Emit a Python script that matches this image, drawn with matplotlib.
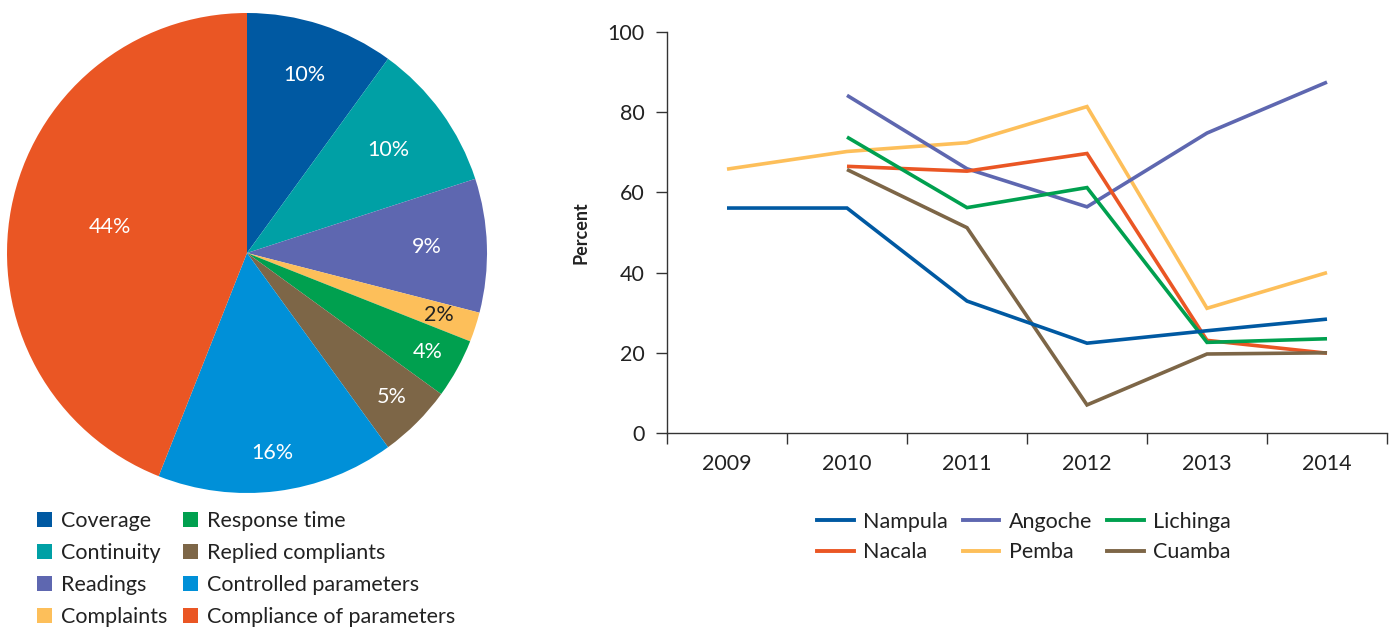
import matplotlib
matplotlib.use("Agg")
import matplotlib.pyplot as plt
from matplotlib.patches import Patch
from matplotlib.lines import Line2D
import numpy as np

plt.rcParams['font.family'] = ['Lato', 'DejaVu Sans']

# ---- pie data ----
pie_labels = ["Coverage", "Continuity", "Readings", "Complaints",
              "Response time", "Replied compliants", "Controlled parameters",
              "Compliance of parameters"]
pie_values = [10, 10, 9, 2, 4, 5, 16, 44]
pie_colors = ["#0059a2", "#00a0a5", "#5e67b0", "#fdbf5a",
              "#00a04f", "#7d6647", "#0090d8", "#ea5624"]
pct_text_colors = ["white", "white", "white", "#222222",
                   "white", "white", "white", "white"]
pct_radius = [0.78, 0.73, 0.75, 0.84, 0.86, 0.85, 0.84, 0.58]

# ---- line data ----
years = ["2009", "2010", "2011", "2012", "2013", "2014"]
nan = np.nan
nampula = [56.1, 56.1, 32.9, 22.4, 25.5, 28.4]
angoche = [nan, 84.2, 65.9, 56.4, 74.8, 87.5]
lichinga = [nan, 73.8, 56.2, 61.2, 22.6, 23.5]
nacala = [nan, 66.5, 65.3, 69.7, 23.1, 19.9]
pemba = [65.8, 70.2, 72.4, 81.4, 31.1, 40.0]
cuamba = [nan, 65.7, 51.2, 7.0, 19.7, 20.0]

series_names = ["Nampula", "Angoche", "Lichinga", "Nacala", "Pemba", "Cuamba"]
series_values = [nampula, angoche, lichinga, nacala, pemba, cuamba]
series_colors = ["#0059a2", "#5e67b0", "#00a04f", "#ea5624", "#fdbf5a", "#7d6647"]
# drawing order (back to front)
draw_order = ["Pemba", "Angoche", "Nacala", "Lichinga", "Cuamba", "Nampula"]

TEXT = "#222222"
FS = 15.5

W, H = 1393, 627
fig = plt.figure(figsize=(W / 100, H / 100), dpi=100)

# ---- pie chart ----
ax_pie = fig.add_axes([7 / W, (H - 493) / H, 480 / W, 480 / H])
wedges, _ = ax_pie.pie(pie_values, colors=pie_colors, startangle=90,
                       counterclock=False, radius=1.0,
                       wedgeprops=dict(linewidth=0))
total = sum(pie_values)
for w, v, c, r in zip(wedges, pie_values, pct_text_colors, pct_radius):
    mid = np.deg2rad((w.theta1 + w.theta2) / 2)
    ax_pie.text(r * np.cos(mid), r * np.sin(mid), f"{round(100 * v / total)}%",
                ha="center", va="center", color=c, fontsize=FS)
ax_pie.set_xlim(-1, 1)
ax_pie.set_ylim(-1, 1)
ax_pie.set_aspect("equal")
ax_pie.axis("off")

pie_handles = [Patch(facecolor=c, edgecolor="none") for c in pie_colors]
leg1 = fig.legend(pie_handles, pie_labels, loc="upper left",
                  bbox_to_anchor=(37 / W, 1 - 511 / H), ncol=2, frameon=False,
                  fontsize=FS, handlelength=0.7, handleheight=0.7,
                  handletextpad=0.4, columnspacing=0.75, labelspacing=0.56,
                  borderaxespad=0, borderpad=0)
for t in leg1.get_texts():
    t.set_color(TEXT)

# ---- line chart ----
ax = fig.add_axes([667 / W, (H - 433) / H, 720 / W, 401 / H])
x = np.arange(len(years))
for name in draw_order:
    i = series_names.index(name)
    ax.plot(x, series_values[i], color=series_colors[i], lw=2.6,
            solid_joinstyle="miter", solid_capstyle="butt")
ax.set_xlim(-0.5, len(years) - 0.5)
ax.set_ylim(0, 100)
ax.set_yticks([0, 20, 40, 60, 80, 100])
ax.set_xticks(np.arange(-0.5, len(years), 1.0))
ax.set_xticklabels([])
ax.set_xticks(x, minor=True)
ax.set_xticklabels(years, minor=True)
ax.tick_params(axis="x", which="major", direction="out", length=8,
               width=1, color="#333333")
ax.tick_params(axis="x", which="minor", length=0, pad=15, labelsize=FS,
               labelcolor=TEXT)
ax.tick_params(axis="y", direction="out", length=8, width=1,
               color="#333333", labelsize=FS, labelcolor=TEXT, pad=8)
for s in ["top", "right"]:
    ax.spines[s].set_visible(False)
for s in ["left", "bottom"]:
    ax.spines[s].set_color("#333333")
    ax.spines[s].set_linewidth(1)
ax.set_ylabel("Percent", fontsize=13, fontweight="bold",
              color=TEXT, labelpad=13)

line_handles = [Line2D([], [], color=c, lw=2.8) for c in series_colors]
# column-major ordering so rows read Nampula/Angoche/Lichinga, Nacala/Pemba/Cuamba
order = [0, 3, 1, 4, 2, 5]
leg2 = fig.legend([line_handles[i] for i in order],
                  [series_names[i] for i in order],
                  loc="upper left", bbox_to_anchor=(817 / W, 1 - 512 / H),
                  ncol=3, frameon=False, fontsize=FS, handlelength=1.7,
                  handletextpad=0.45, columnspacing=0.68, labelspacing=0.48,
                  borderaxespad=0, borderpad=0)
for t in leg2.get_texts():
    t.set_color(TEXT)

fig.savefig("out.png", dpi=100, facecolor="white")
